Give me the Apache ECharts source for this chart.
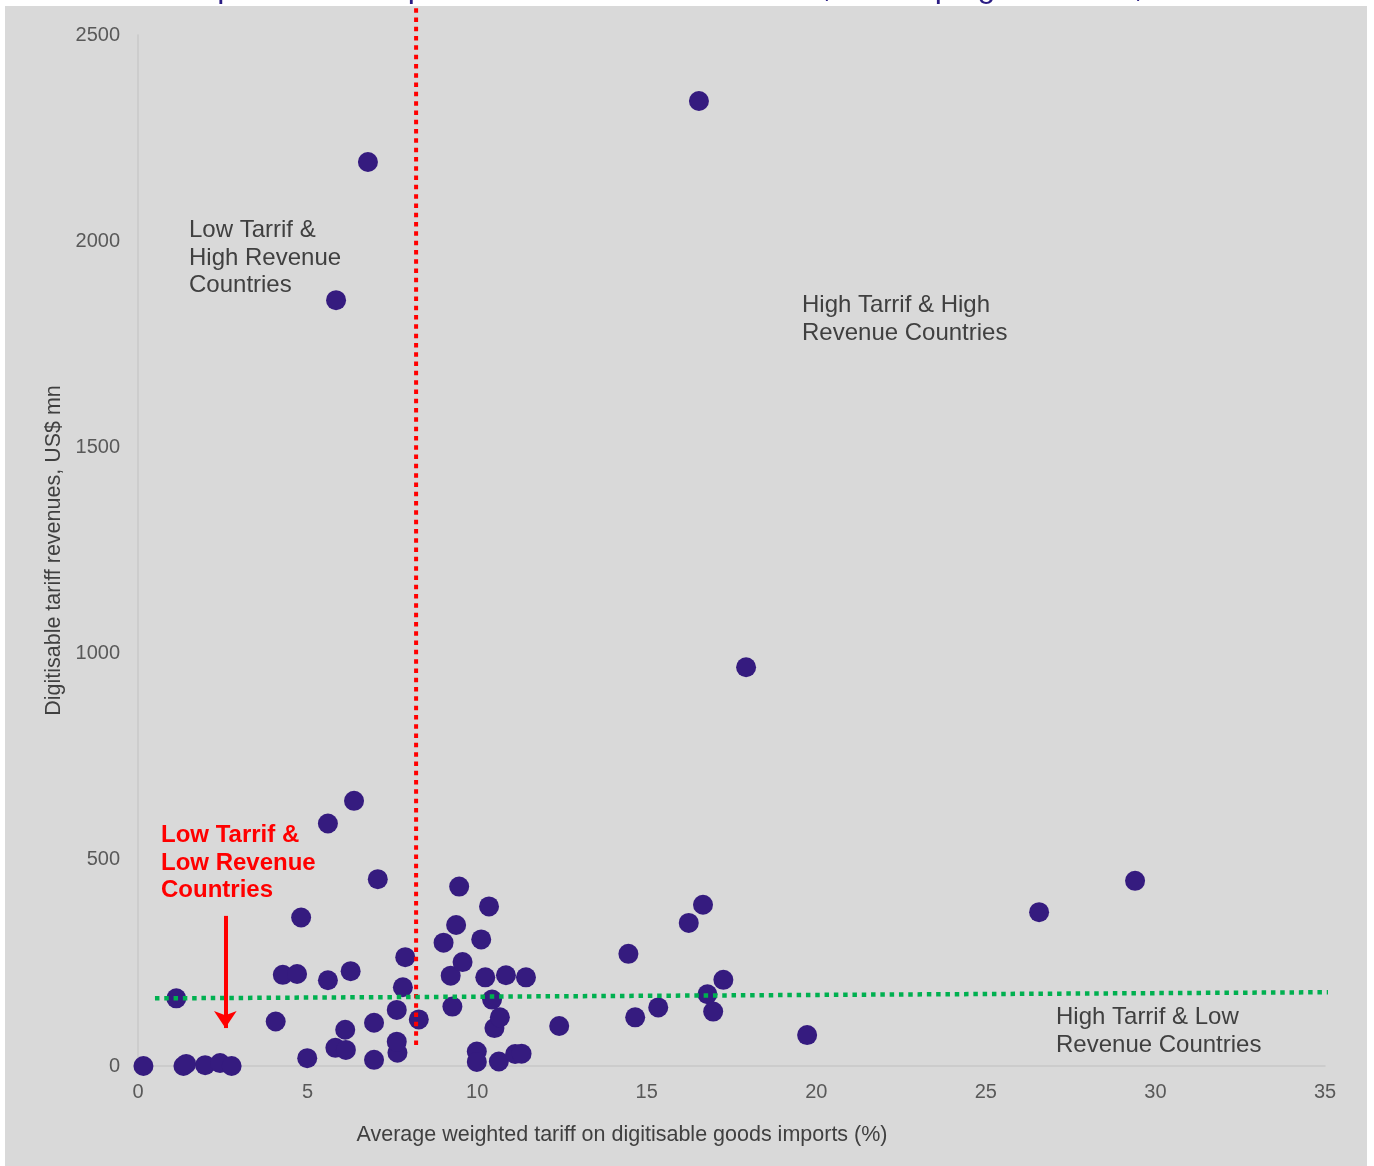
<!DOCTYPE html>
<html>
<head>
<meta charset="utf-8">
<script src="https://cdn.jsdelivr.net/npm/echarts@6/dist/echarts.min.js"></script>
<style>
  html, body { margin: 0; padding: 0; background: #ffffff; }
  #chart { width: 1374px; height: 1166px; }
</style>
</head>
<body>
<div id="chart"></div>
<script>
// Average weighted tariff on digitisable goods imports (%), one entry per country
const tariffPct = [
  0.16, 1.13, 1.34, 1.42, 1.98, 2.42, 2.76, 4.06, 4.27, 4.69,
  4.81, 4.99, 5.60, 5.60, 5.82, 5.84, 6.13, 6.11, 6.27, 6.37,
  6.78, 6.96, 6.96, 7.07, 7.65, 7.63, 7.63, 7.81, 7.88, 8.28,
  9.01, 9.22, 9.27, 9.38, 9.47, 9.57, 9.99, 9.99, 10.12, 10.24,
  10.35, 10.44, 10.51, 10.67, 10.64, 10.85, 11.12, 11.31, 11.44, 12.42,
  14.46, 14.66, 15.34, 16.24, 16.54, 16.66, 16.79, 16.96, 17.26, 17.93,
  19.73, 26.57, 29.40
];

// Digitisable tariff revenues (US$ mn), same order as tariffPct
const revenueUsdMn = [
  0, 164, 0, 5, 2, 7, 0, 108, 221, 223,
  360, 19, 208, 588, 44, 1857, 39, 88, 230, 643,
  2192, 15, 105, 453, 32, 59, 136, 191, 264, 113,
  299, 219, 144, 342, 435, 252, 35, 10, 307, 215,
  387, 161, 92, 118, 11, 220, 29, 30, 215, 97,
  272, 118, 142, 347, 2340, 391, 174, 132, 209, 967,
  75, 373, 449
];

// Axis ticks
const xTicks = [0, 5, 10, 15, 20, 25, 30, 35];
const yTicks = [0, 500, 1000, 1500, 2000, 2500];

// Quadrant dividers: tariff threshold (vertical) and revenue trend (horizontal)
const tariffThresholdX = [8.2, 8.2];
const tariffThresholdY = [51, 2568];
const revenueTrendX = [0.5, 35.4];
const revenueTrendY = [164, 179];

// Arrow pointing at the low tariff / low revenue group
const arrowX = [2.575, 2.575];
const arrowY = [364, 92];

const FONT = '"Liberation Sans", Arial, Helvetica, sans-serif';

const points = tariffPct.map((t, i) => [t, revenueUsdMn[i]]);
const zip = (xs, ys) => xs.map((x, i) => [x, ys[i]]);

const chart = echarts.init(document.getElementById('chart'), null, { renderer: 'canvas' });

const noteStyle = (text, x, y, weight, color) => ({
  type: 'text', z: 10, x: x, y: y,
  style: {
    text: text,
    font: weight + ' 24px ' + FONT, fill: color, lineHeight: 27.5,
    textAlign: 'left', align: 'left', textVerticalAlign: 'top', verticalAlign: 'top'
  }
});

chart.setOption({
  animation: false,
  backgroundColor: '#ffffff',
  textStyle: { fontFamily: FONT },
  grid: { left: 138, right: 49, top: 35, bottom: 100, containLabel: false },
  xAxis: {
    type: 'value',
    min: xTicks[0],
    max: xTicks[xTicks.length - 1],
    interval: xTicks[1] - xTicks[0],
    axisLine: { show: true, lineStyle: { color: '#c8c8c8', width: 1.5 } },
    axisTick: { show: false },
    splitLine: { show: false },
    axisLabel: { color: '#595959', fontSize: 20, fontFamily: FONT, margin: 16 },
    name: 'Average weighted tariff on digitisable goods imports (%)',
    nameLocation: 'middle',
    nameGap: 58,
    nameTextStyle: { color: '#404040', fontSize: 21.5, fontFamily: FONT, padding: [0, 219, 0, 0] }
  },
  yAxis: {
    type: 'value',
    min: yTicks[0],
    max: yTicks[yTicks.length - 1],
    interval: yTicks[1] - yTicks[0],
    axisLine: { show: true, lineStyle: { color: '#c8c8c8', width: 1.5 } },
    axisTick: { show: false },
    splitLine: { show: false },
    axisLabel: {
      color: '#595959', fontSize: 20, fontFamily: FONT, margin: 18,
      formatter: (v) => String(v)
    },
    name: 'Digitisable tariff revenues, US$ mn',
    nameLocation: 'middle',
    nameGap: 70,
    nameTextStyle: { color: '#404040', fontSize: 21.5, fontFamily: FONT }
  },
  graphic: [
    {
      type: 'text',
      z: -20,
      x: 59,
      y: -12,
      style: {
        text: 'Relationship between import tariffs and tariff revenues, developing countries, 2017',
        font: '32px ' + FONT,
        fill: '#2B1D84',
        textAlign: 'left', align: 'left',
        textVerticalAlign: 'middle', verticalAlign: 'middle'
      }
    },
    {
      type: 'rect',
      z: -10,
      shape: { x: 5, y: 6, width: 1362, height: 1162 },
      style: { fill: '#d9d9d9' }
    },
    noteStyle('Low Tarrif &\nHigh Revenue\nCountries', 189, 217, 'normal', '#404040'),
    noteStyle('High Tarrif & High\nRevenue Countries', 802, 292, 'normal', '#404040'),
    noteStyle('High Tarrif & Low\nRevenue Countries', 1056, 1004, 'normal', '#404040'),
    noteStyle('Low Tarrif &\nLow Revenue\nCountries', 161, 822, 'bold', '#ff0000')
  ],
  series: [
    {
      name: 'Countries',
      type: 'scatter',
      z: 3,
      symbol: 'circle',
      symbolSize: 20,
      itemStyle: { color: '#351B7F', opacity: 1 },
      data: points
    },
    {
      name: 'Tariff threshold',
      type: 'line',
      z: 5,
      clip: false,
      symbol: 'none',
      lineStyle: { color: '#ff0000', width: 4, type: [4.5, 4.8], cap: 'butt' },
      data: zip(tariffThresholdX, tariffThresholdY)
    },
    {
      name: 'Revenue trend',
      type: 'line',
      z: 5,
      clip: false,
      symbol: 'none',
      lineStyle: { color: '#00b050', width: 4.5, type: [4.5, 4.8], cap: 'butt' },
      data: zip(revenueTrendX, revenueTrendY)
    },
    {
      name: 'Arrow',
      type: 'lines',
      coordinateSystem: 'cartesian2d',
      z: 6,
      symbol: ['none', 'arrow'],
      symbolSize: [18, 17],
      lineStyle: { color: '#ff0000', width: 4, opacity: 1 },
      data: [{ coords: zip(arrowX, arrowY) }]
    }
  ]
});
</script>
</body>
</html>
